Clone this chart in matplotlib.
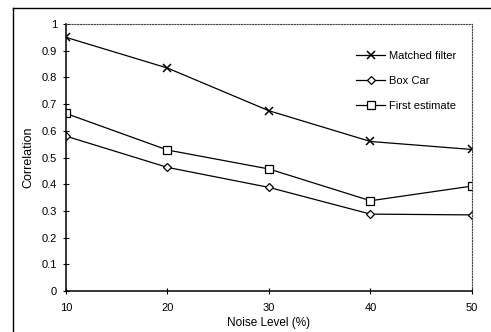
import matplotlib.pyplot as plt
from matplotlib.lines import Line2D

noise = [10, 20, 30, 40, 50]
matched = [0.95, 0.835, 0.675, 0.56, 0.53]
box_car = [0.58, 0.463, 0.388, 0.288, 0.285]
first_est = [0.665, 0.528, 0.457, 0.338, 0.393]
yticks = [0, 0.1, 0.2, 0.3, 0.4, 0.5, 0.6, 0.7, 0.8, 0.9, 1]
ytick_labels = ["0", "0.1", "0.2", "0.3", "0.4", "0.5", "0.6", "0.7", "0.8", "0.9", "1"]

plt.rcParams['font.family'] = ['Liberation Sans', 'DejaVu Sans']

fig = plt.figure(figsize=(4.91, 3.32), dpi=100)
ax = fig.add_axes([0.1344, 0.1235, 0.8269, 0.8042])

ax.plot(noise, matched, color='black', lw=0.9, marker='x', ms=6, mew=1.1,
        label='Matched filter')
ax.plot(noise, box_car, color='black', lw=0.9, marker='D', ms=4, mew=0.9,
        mfc='white', label='Box Car')
ax.plot(noise, first_est, color='black', lw=0.9, marker='s', ms=6, mew=0.9,
        mfc='white', label='First estimate')

ax.set_xlim(10, 50)
ax.set_ylim(0, 1)
ax.set_xticks(noise)
ax.set_xticklabels([str(n) for n in noise])
ax.set_yticks(yticks)
ax.set_yticklabels(ytick_labels)
ax.tick_params(direction='inout', length=5, width=0.8, labelsize=8)
ax.tick_params(axis='x', pad=6)
ax.tick_params(axis='y', pad=4)

for side in ['top', 'right']:
    ax.spines[side].set_linestyle((0, (1, 1.5)))
    ax.spines[side].set_linewidth(0.8)
    ax.spines[side].set_color('#444444')
for side in ['left', 'bottom']:
    ax.spines[side].set_linewidth(1.1)

ax.set_xlabel('Noise Level (%)', fontsize=8.5, labelpad=3)
ax.set_ylabel('Correlation', fontsize=9, labelpad=5)

ax.legend(loc='upper right', bbox_to_anchor=(0.985, 0.935), frameon=False,
          fontsize=8, handlelength=2.6, handletextpad=0.3, labelspacing=1.35)

# scanned page frame lines
fig.add_artist(Line2D([13 / 491, 1], [1 - 8 / 332, 1 - 8 / 332], color='black', lw=1.0))
fig.add_artist(Line2D([13 / 491, 13 / 491], [0, 1 - 8 / 332], color='black', lw=1.0))

fig.savefig('out.png', dpi=100)
